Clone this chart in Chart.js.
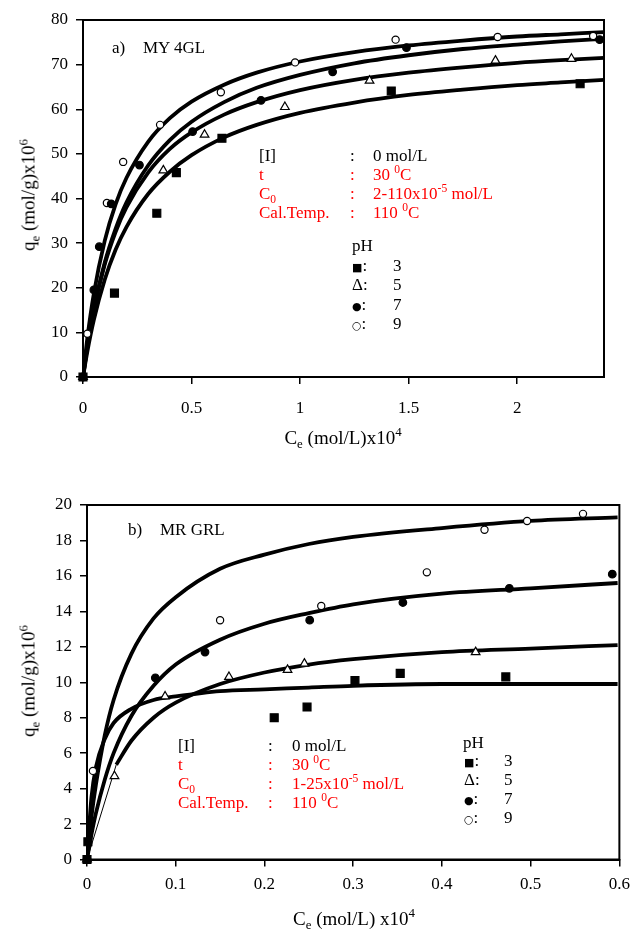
<!DOCTYPE html>
<html>
<head>
<meta charset="utf-8">
<script src="https://cdn.jsdelivr.net/npm/chart.js@4.4.0/dist/chart.umd.min.js"></script>
<style>
body { margin: 0; background: #fff; }
#page { position: relative; width: 638px; height: 931px; font-family: "Liberation Serif", "Times New Roman", serif; color: #000; }
canvas { position: absolute; left: 0; }
.t { position: absolute; font-size: 17px; line-height: 17px; white-space: nowrap; }
.red { color: #ff0000; }
sup, sub { font-size: 68%; line-height: 0; }
.ttl { position: absolute; font-size: 19px; line-height: 19px; white-space: nowrap; transform: translate(-50%, -50%); }
.ylab { transform: translate(-50%, -50%) rotate(-90deg); }
.sym { font-family: "DejaVu Sans", sans-serif; font-size: 11px; }
</style>
</head>
<body>
<div id="page">
  <canvas id="chartA" width="638" height="460" style="top:0"></canvas>
  <canvas id="chartB" width="638" height="461" style="top:470px"></canvas>

  <!-- chart a texts -->
  <div class="t" style="left:112px;top:39px">a)</div>
  <div class="t" style="left:143px;top:39px">MY 4GL</div>
  <div class="t" style="left:259px;top:147px">[I]</div>
  <div class="t" style="left:350px;top:147px">:</div>
  <div class="t" style="left:373px;top:147px">0 mol/L</div>
  <div class="t red" style="left:259px;top:166px">t</div>
  <div class="t red" style="left:350px;top:166px">:</div>
  <div class="t red" style="left:373px;top:166px">30 <sup>0</sup>C</div>
  <div class="t red" style="left:259px;top:185px">C<sub>0</sub></div>
  <div class="t red" style="left:350px;top:185px">:</div>
  <div class="t red" style="left:373px;top:185px">2-110x10<sup>-5</sup> mol/L</div>
  <div class="t red" style="left:259px;top:204px">Cal.Temp.</div>
  <div class="t red" style="left:350px;top:204px">:</div>
  <div class="t red" style="left:373px;top:204px">110 <sup>0</sup>C</div>
  <div class="t" style="left:352px;top:237px">pH</div>
  <div class="t" style="left:352px;top:257px"><span class="sym">■</span>:</div>
  <div class="t" style="left:393px;top:257px">3</div>
  <div class="t" style="left:352px;top:276px">Δ:</div>
  <div class="t" style="left:393px;top:276px">5</div>
  <div class="t" style="left:352px;top:296px"><span class="sym">●</span>:</div>
  <div class="t" style="left:393px;top:296px">7</div>
  <div class="t" style="left:352px;top:315px"><span class="sym">○</span>:</div>
  <div class="t" style="left:393px;top:315px">9</div>
  <div class="ttl" style="left:343px;top:437px">C<sub>e</sub> (mol/L)x10<sup>4</sup></div>
  <div class="ttl ylab" style="left:28px;top:195px">q<sub>e</sub> (mol/g)x10<sup>6</sup></div>

  <!-- chart b texts -->
  <div class="t" style="left:128px;top:521px">b)</div>
  <div class="t" style="left:160px;top:521px">MR GRL</div>
  <div class="t" style="left:178px;top:737px">[I]</div>
  <div class="t" style="left:268px;top:737px">:</div>
  <div class="t" style="left:292px;top:737px">0 mol/L</div>
  <div class="t red" style="left:178px;top:756px">t</div>
  <div class="t red" style="left:268px;top:756px">:</div>
  <div class="t red" style="left:292px;top:756px">30 <sup>0</sup>C</div>
  <div class="t red" style="left:178px;top:775px">C<sub>0</sub></div>
  <div class="t red" style="left:268px;top:775px">:</div>
  <div class="t red" style="left:292px;top:775px">1-25x10<sup>-5</sup> mol/L</div>
  <div class="t red" style="left:178px;top:794px">Cal.Temp.</div>
  <div class="t red" style="left:268px;top:794px">:</div>
  <div class="t red" style="left:292px;top:794px">110 <sup>0</sup>C</div>
  <div class="t" style="left:463px;top:734px">pH</div>
  <div class="t" style="left:464px;top:752px"><span class="sym">■</span>:</div>
  <div class="t" style="left:504px;top:752px">3</div>
  <div class="t" style="left:464px;top:771px">Δ:</div>
  <div class="t" style="left:504px;top:771px">5</div>
  <div class="t" style="left:464px;top:790px"><span class="sym">●</span>:</div>
  <div class="t" style="left:504px;top:790px">7</div>
  <div class="t" style="left:464px;top:809px"><span class="sym">○</span>:</div>
  <div class="t" style="left:504px;top:809px">9</div>
  <div class="ttl" style="left:354px;top:918px">C<sub>e</sub> (mol/L) x10<sup>4</sup></div>
  <div class="ttl ylab" style="left:28px;top:681px">q<sub>e</sub> (mol/g)x10<sup>6</sup></div>
</div>

<script>
// ---- chart a) MY 4GL ----
const xTicksA = [0, 0.5, 1, 1.5, 2];
const yTicksA = [0, 10, 20, 30, 40, 50, 60, 70, 80];

// measured points, Ce x10^4 vs qe x10^6
const ph3A_x = [0, 0.145, 0.34, 0.43, 0.64, 1.42, 2.29];
const ph3A_y = [0, 18.8, 36.7, 45.8, 53.5, 64.1, 65.7];
const ph5A_x = [0, 0.37, 0.56, 0.93, 1.32, 1.90, 2.25];
const ph5A_y = [0, 46.3, 54.3, 60.5, 66.4, 70.9, 71.3];
const ph7A_x = [0, 0.05, 0.075, 0.13, 0.26, 0.505, 0.82, 1.15, 1.49, 2.38];
const ph7A_y = [0, 19.5, 29.2, 38.8, 47.5, 55.0, 62.0, 68.4, 73.8, 75.6];
const ph9A_x = [0, 0.02, 0.11, 0.185, 0.355, 0.635, 0.977, 1.44, 1.91, 2.35];
const ph9A_y = [0, 9.7, 39.0, 48.2, 56.5, 63.8, 70.5, 75.6, 76.2, 76.4];

// fitted curves
const curveA_x = [0, 0.02, 0.05, 0.1, 0.15, 0.2, 0.3, 0.4, 0.5, 0.65, 0.8, 1.0, 1.25, 1.5, 1.75, 2.0, 2.2, 2.4];
const curve9A = [0, 8.7, 18.7, 30.5, 38.7, 44.6, 52.7, 58.0, 61.7, 65.5, 68.2, 70.7, 72.8, 74.3, 75.4, 76.3, 76.8, 77.3];
const curve7A = [0, 6.8, 15.1, 25.6, 33.2, 39.1, 47.4, 53.1, 57.2, 61.6, 64.8, 67.7, 70.3, 72.1, 73.5, 74.5, 75.2, 75.8];
const curve5A = [0, 6.8, 15.0, 25.2, 32.5, 38.0, 45.8, 51.1, 54.8, 58.8, 61.6, 64.3, 66.6, 68.2, 69.4, 70.4, 71.0, 71.5];
const curve3A = [0, 5.7, 12.8, 21.8, 28.5, 33.6, 41.0, 46.0, 49.7, 53.7, 56.5, 59.2, 61.5, 63.2, 64.4, 65.4, 66.0, 66.6];

// ---- chart b) MR GRL ----
const xTicksB = [0, 0.1, 0.2, 0.3, 0.4, 0.5, 0.6];
const yTicksB = [0, 2, 4, 6, 8, 10, 12, 14, 16, 18, 20];

const ph3B_x = [0, 0.001, 0.211, 0.248, 0.302, 0.353, 0.472];
const ph3B_y = [0, 1.0, 8.0, 8.6, 10.1, 10.5, 10.3];
const ph5B_x = [0, 0.031, 0.088, 0.160, 0.226, 0.245, 0.438];
const ph5B_y = [0, 4.7, 9.2, 10.3, 10.7, 11.05, 11.7];
const ph7B_x = [0, 0.077, 0.133, 0.251, 0.356, 0.476, 0.592];
const ph7B_y = [0, 10.25, 11.7, 13.5, 14.5, 15.3, 16.1];
const ph9B_x = [0, 0.0067, 0.150, 0.264, 0.383, 0.448, 0.496, 0.559];
const ph9B_y = [0, 5.0, 13.5, 14.3, 16.2, 18.6, 19.1, 19.5];

const curveB_x = [0, 0.005, 0.01, 0.02, 0.03, 0.05, 0.075, 0.1, 0.15, 0.2, 0.25, 0.3, 0.4, 0.5, 0.598];
const curve9B = [0, 2.4, 4.2, 7.0, 9.0, 11.6, 13.6, 14.8, 16.4, 17.2, 17.8, 18.2, 18.7, 19.1, 19.3];
const curve7B = [0, 1.4, 2.6, 4.5, 6.0, 8.1, 9.8, 11.0, 12.4, 13.3, 13.9, 14.4, 15.0, 15.3, 15.6];
const curve3B = [0, 3.5, 5.2, 6.8, 7.7, 8.5, 9.0, 9.2, 9.5, 9.6, 9.7, 9.8, 9.9, 9.9, 9.9];
const curve5B_x = [0.033, 0.05, 0.075, 0.1, 0.15, 0.2, 0.25, 0.3, 0.4, 0.5, 0.598];
const curve5B = [5.35, 6.7, 8.0, 8.85, 9.9, 10.55, 11.0, 11.3, 11.7, 11.9, 12.1];
const thinB_x = [0, 0.033];
const thinB_y = [0, 5.35];

function pts(xs, ys) {
    return xs.map((x, i) => ({ x: x, y: ys[i] }));
}

// marker look per pH
function markers(ph, xs, ys) {
    let st = {
        3: { pointStyle: 'rect', r: 5.6, fill: '#000' },
        5: { pointStyle: 'triangle', r: 5, fill: '#fff' },
        7: { pointStyle: 'circle', r: 3.8, fill: '#000' },
        9: { pointStyle: 'circle', r: 3.6, fill: '#fff' }
    }[ph];
    return {
        data: pts(xs, ys),
        showLine: false,
        pointStyle: st.pointStyle,
        pointRadius: st.r,
        pointBackgroundColor: st.fill,
        pointBorderColor: '#000',
        pointBorderWidth: 1.2,
        clip: false,
        order: 0
    };
}

function curve(xs, ys, w) {
    return {
        data: pts(xs, ys),
        showLine: true,
        pointRadius: 0,
        borderColor: '#000',
        borderWidth: w || 3.8,
        cubicInterpolationMode: 'monotone',
        order: 1
    };
}

// full box around the plot area
const frame = {
    id: 'frame',
    afterDraw(chart) {
        let a = chart.chartArea, ctx = chart.ctx;
        ctx.save();
        ctx.strokeStyle = '#000';
        ctx.lineWidth = 2;
        ctx.strokeRect(a.left, a.top, a.right - a.left, a.bottom - a.top);
        ctx.restore();
    }
};

const tickFont = { family: "'Liberation Serif', 'Times New Roman', serif", size: 17 };

function makeChart(id, datasets, g) {
    let ctx = document.getElementById(id).getContext('2d');
    return new Chart(ctx, {
        type: 'scatter',
        data: { datasets: datasets },
        plugins: [frame],
        options: {
            responsive: false,
            animation: false,
            layout: { padding: { top: g.top, right: g.right, left: 0, bottom: 0 } },
            plugins: { legend: { display: false }, tooltip: { enabled: false } },
            scales: {
                x: {
                    type: 'linear', min: 0, max: g.xmax,
                    afterBuildTicks: s => { s.ticks = g.xticks.map(v => ({ value: v })); },
                    afterFit: s => { s.height = g.xh; },
                    ticks: { font: tickFont, color: '#000', padding: g.xpad, maxRotation: 0, autoSkip: false, callback: v => String(v) },
                    grid: { drawOnChartArea: false, color: '#000', lineWidth: 1.5, tickLength: 7 },
                    border: { color: '#000', width: 2 }
                },
                y: {
                    type: 'linear', min: 0, max: g.ymax,
                    afterBuildTicks: s => { s.ticks = g.yticks.map(v => ({ value: v })); },
                    afterFit: s => { s.width = g.yw; },
                    ticks: { font: tickFont, color: '#000', padding: 8, autoSkip: false, callback: v => String(v) },
                    grid: { drawOnChartArea: false, color: '#000', lineWidth: 1.5, tickLength: 7 },
                    border: { color: '#000', width: 2 }
                }
            }
        }
    });
}

makeChart('chartA', [
    markers(3, ph3A_x, ph3A_y),
    markers(5, ph5A_x, ph5A_y),
    markers(7, ph7A_x, ph7A_y),
    markers(9, ph9A_x, ph9A_y),
    curve(curveA_x, curve9A),
    curve(curveA_x, curve7A),
    curve(curveA_x, curve5A),
    curve(curveA_x, curve3A)
], { top: 20, right: 34, xh: 83, yw: 83, xpad: 14, xmax: 2.4, ymax: 80, xticks: xTicksA, yticks: yTicksA });

makeChart('chartB', [
    markers(3, ph3B_x, ph3B_y),
    markers(5, ph5B_x, ph5B_y),
    markers(7, ph7B_x, ph7B_y),
    markers(9, ph9B_x, ph9B_y),
    curve(curveB_x, curve9B),
    curve(curveB_x, curve7B),
    curve(curve5B_x, curve5B),
    curve(curveB_x, curve3B),
    curve(thinB_x, thinB_y, 1)
], { top: 35, right: 14.5, xh: 71.5, yw: 87, xpad: 8, xmax: 0.6, ymax: 20, xticks: xTicksB, yticks: yTicksB });
</script>
</body>
</html>
